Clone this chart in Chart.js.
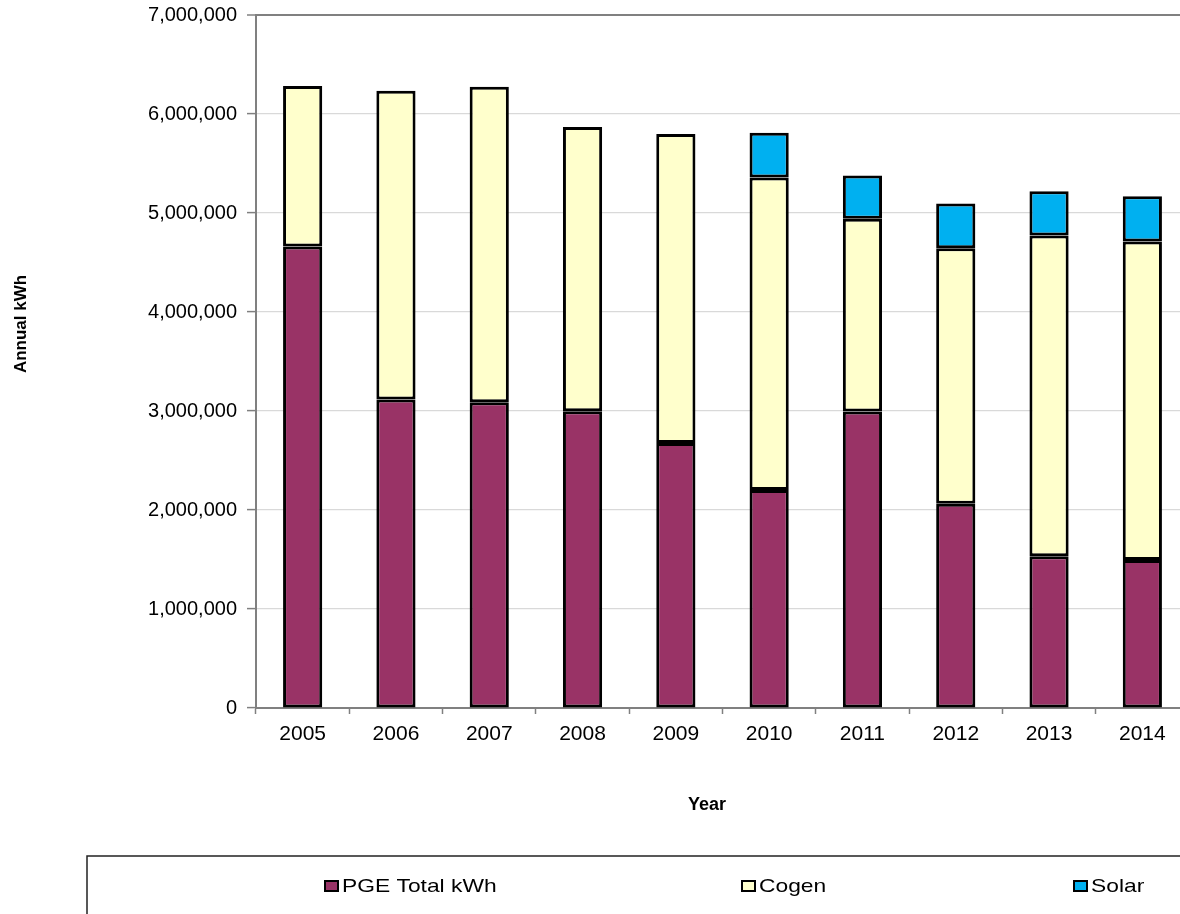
<!DOCTYPE html>
<html>
<head>
<meta charset="utf-8">
<script src="https://cdn.jsdelivr.net/npm/chart.js@4.4.1/dist/chart.umd.min.js"></script>
<style>
  html, body { margin: 0; padding: 0; background: #fff; overflow: hidden; }
  #wrap { position: absolute; left: 0; top: 0; width: 1200px; height: 914px; }
</style>
</head>
<body>
<div id="wrap"><canvas id="energyChart"></canvas></div>
<script>
const years = ['2005', '2006', '2007', '2008', '2009', '2010', '2011', '2012', '2013', '2014'];
const pgeKwh = [4662000, 3116000, 3089000, 2998000, 2678000, 2201000, 2995000, 2063000, 1533000, 1495000];
const cogenKwh = [1620000, 3119000, 3186000, 2871000, 3120000, 3157000, 1946000, 2582000, 3240000, 3217000];
const solarKwh = [null, null, null, null, null, 453000, 437000, 450000, 446000, 457000];
const yTicks = [0, 1000000, 2000000, 3000000, 4000000, 5000000, 6000000, 7000000];

const FONT = "'Liberation Sans', Arial, sans-serif";

// axis titles and boxed legend drawn by hand, like the Excel original
const extras = {
    id: 'extras',
    afterDraw(chart) {
        const c = chart.ctx;
        c.save();
        c.fillStyle = '#000';
        c.font = 'bold 17px ' + FONT;
        c.textAlign = 'center';
        c.textBaseline = 'middle';
        c.save();
        c.translate(21, 324);
        c.rotate(-Math.PI / 2);
        c.fillText('Annual kWh', 0, 0);
        c.restore();
        c.font = 'bold 18px ' + FONT;
        c.fillText('Year', 707, 805);
        c.restore();

        c.save();
        c.strokeStyle = '#222';
        c.lineWidth = 1.5;
        c.strokeRect(87, 856, 1300, 100);
        const xs = [324, 741, 1073];
        chart.data.datasets.forEach((ds, i) => {
            const x = xs[i];
            c.fillStyle = ds.backgroundColor;
            c.fillRect(x, 880, 15, 12);
            c.strokeStyle = '#000';
            c.lineWidth = 2;
            c.strokeRect(x + 1, 881, 13, 10);
            c.save();
            c.translate(x + 18, 886);
            c.scale(1.2, 1);
            c.fillStyle = '#000';
            c.font = '19px ' + FONT;
            c.textBaseline = 'middle';
            c.fillText(ds.label, 0, 1);
            c.restore();
        });
        c.restore();
    }
};

const barStyle = {
    borderColor: '#000',
    borderWidth: 3,
    borderSkipped: false,
    barPercentage: 0.42,
    categoryPercentage: 1
};

const ctx = document.getElementById('energyChart').getContext('2d');
const energyChart = new Chart(ctx, {
    type: 'bar',
    data: {
        labels: years,
        datasets: [{
            label: 'PGE Total kWh',
            data: pgeKwh,
            backgroundColor: '#993366',
            ...barStyle
        }, {
            label: 'Cogen',
            data: cogenKwh,
            backgroundColor: '#ffffcc',
            ...barStyle
        }, {
            label: 'Solar',
            data: solarKwh,
            backgroundColor: '#00b0f0',
            ...barStyle
        }]
    },
    options: {
        responsive: true,
        maintainAspectRatio: false,
        animation: false,
        layout: {
            padding: { left: 0, top: 15, right: 11, bottom: 86 }
        },
        plugins: {
            legend: { display: false },
            tooltip: { enabled: false }
        },
        scales: {
            x: {
                stacked: true,
                afterFit: s => { s.height = 120; s.paddingLeft = 0; s.paddingRight = 0; },
                grid: {
                    offset: true,
                    drawOnChartArea: false,
                    tickLength: 6,
                    tickColor: '#808080',
                    tickWidth: 1.5
                },
                border: { color: '#808080', width: 2 },
                ticks: {
                    color: '#000',
                    font: { family: FONT, size: 21 },
                    padding: 8,
                    maxRotation: 0
                }
            },
            y: {
                stacked: true,
                min: 0,
                max: 7000000,
                afterFit: s => { s.width = 256; s.paddingTop = 0; s.paddingBottom = 0; },
                afterBuildTicks: s => { s.ticks = yTicks.map(v => ({ value: v })); },
                grid: {
                    color: c => (c.tick && c.tick.value === 7000000) ? '#808080' : '#d9d9d9',
                    lineWidth: c => (c.tick && c.tick.value === 7000000) ? 2 : 1.2,
                    tickLength: 9,
                    tickColor: '#808080',
                    tickWidth: 1.5
                },
                border: { color: '#808080', width: 2 },
                ticks: {
                    color: '#000',
                    font: { family: FONT, size: 20 },
                    padding: 10,
                    callback: v => v.toLocaleString('en-US')
                }
            }
        }
    },
    plugins: [extras]
});
</script>
</body>
</html>
